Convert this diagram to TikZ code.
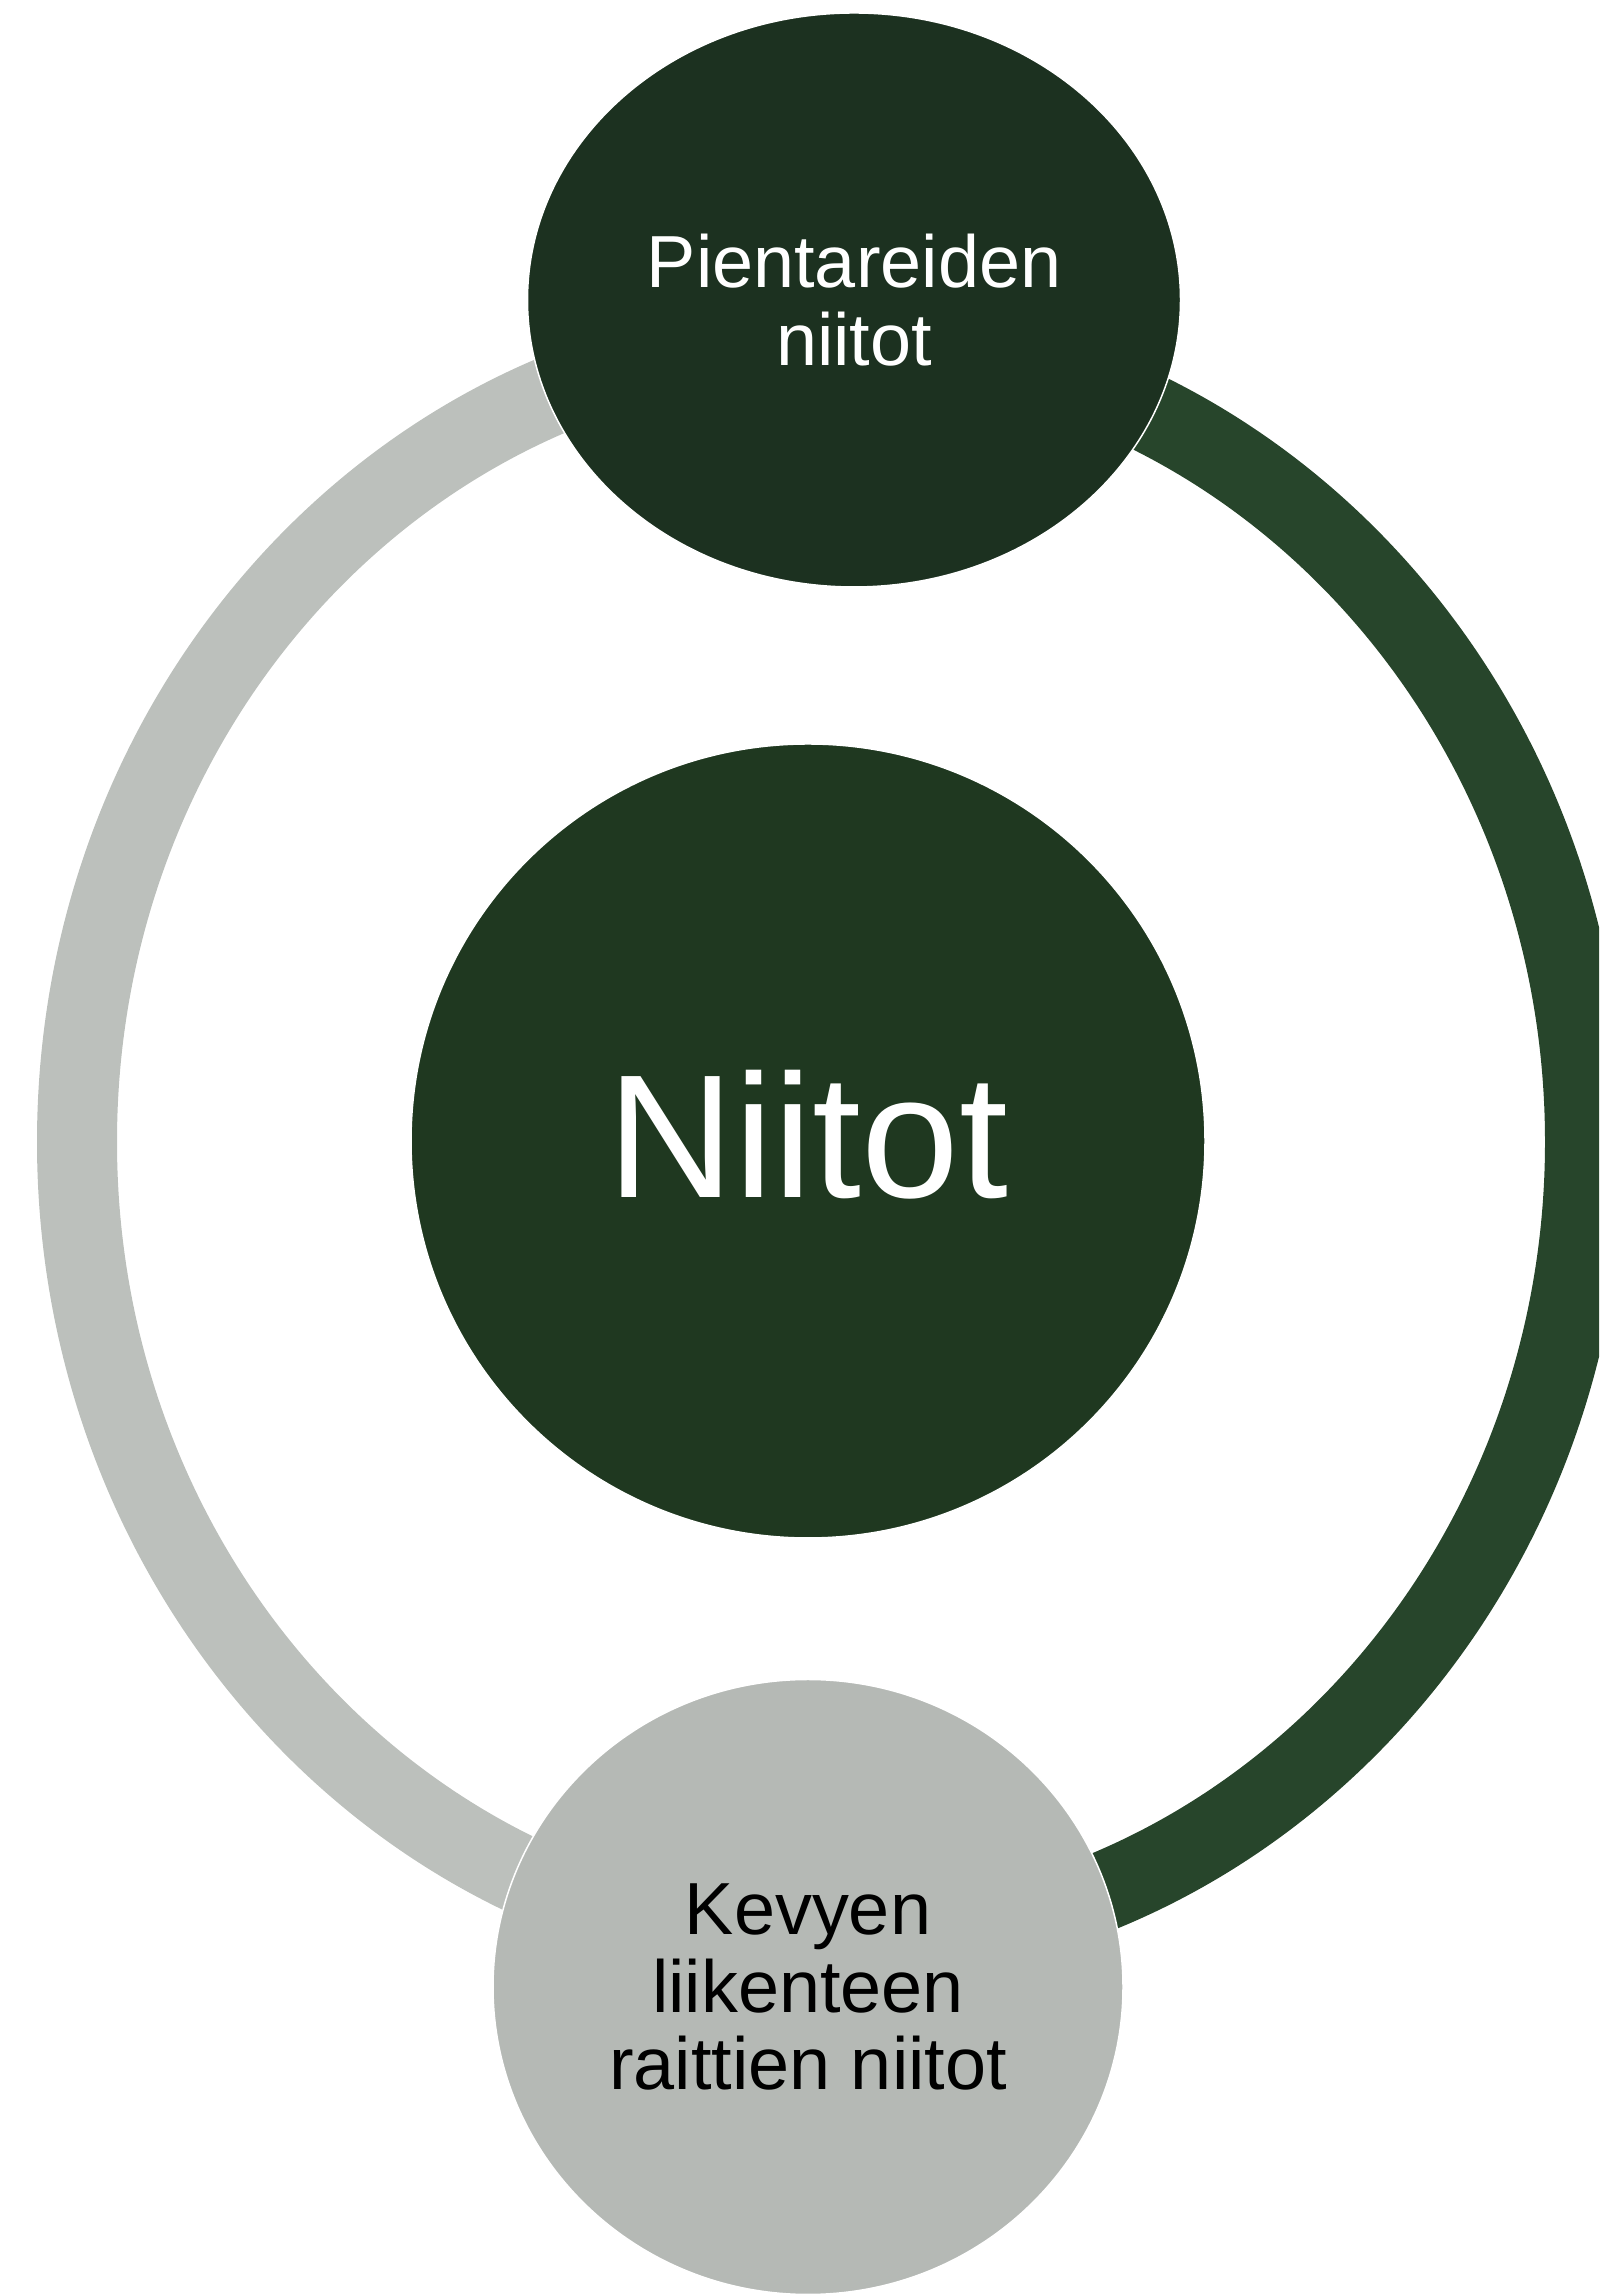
\documentclass[tikz,border=0pt]{standalone}
\usepackage{fontspec}
\setmainfont{Liberation Sans}
\usetikzlibrary{shapes.geometric}
\usetikzlibrary{positioning}
\definecolor{topgreen}{HTML}{1C3120}
\definecolor{midgreen}{HTML}{1F3820}
\definecolor{arcgreen}{HTML}{27452B}
\definecolor{arcgray}{HTML}{BCC0BC}
\definecolor{botgray}{HTML}{B5B9B5}
\tikzset{bubble/.style={draw=white,line width=0.15mm,inner sep=0pt,align=center}}
\tikzset{smalltext/.style={font=\fontsize{21}{22}\selectfont}}
\newcommand{\ringpart}[3]{
    \fill[#1] (8.31,11.53) ++(#2:7.94 and 8.43)
        arc[start angle=#2,end angle=#3,x radius=7.94,y radius=8.43]
        -- ([shift={(#3:7.14 and 7.64)}]8.31,11.53)
        arc[start angle=#3,end angle=#2,x radius=7.14,y radius=7.64] -- cycle;
}

\begin{document}
\begin{tikzpicture}
        \useasboundingbox (0,0) rectangle (15.99,22.95);
        \clip (0,0) rectangle (15.99,22.95);

        % ring behind the nodes
        \ringpart{arcgray}{90}{270}
        \ringpart{arcgreen}{-90}{90}

        \node[bubble,ellipse,fill=topgreen,text=white,smalltext,
            minimum width=6.53cm,minimum height=5.74cm] (pnt) at (8.54,19.95)
            {Pientareiden\\niitot};
        \node[bubble,circle,fill=midgreen,text=white,
            font=\fontsize{50}{52}\selectfont,
            minimum size=7.94cm] (nii) at (8.08,11.54)
            {\raisebox{1.4mm}{Niitot}};
        \node[bubble,ellipse,fill=botgray,text=black,smalltext,
            minimum width=6.30cm,minimum height=6.15cm] (kev) at (8.08,3.08)
            {Kevyen\\liikenteen\\raittien niitot};
    \end{tikzpicture}
\end{document}
